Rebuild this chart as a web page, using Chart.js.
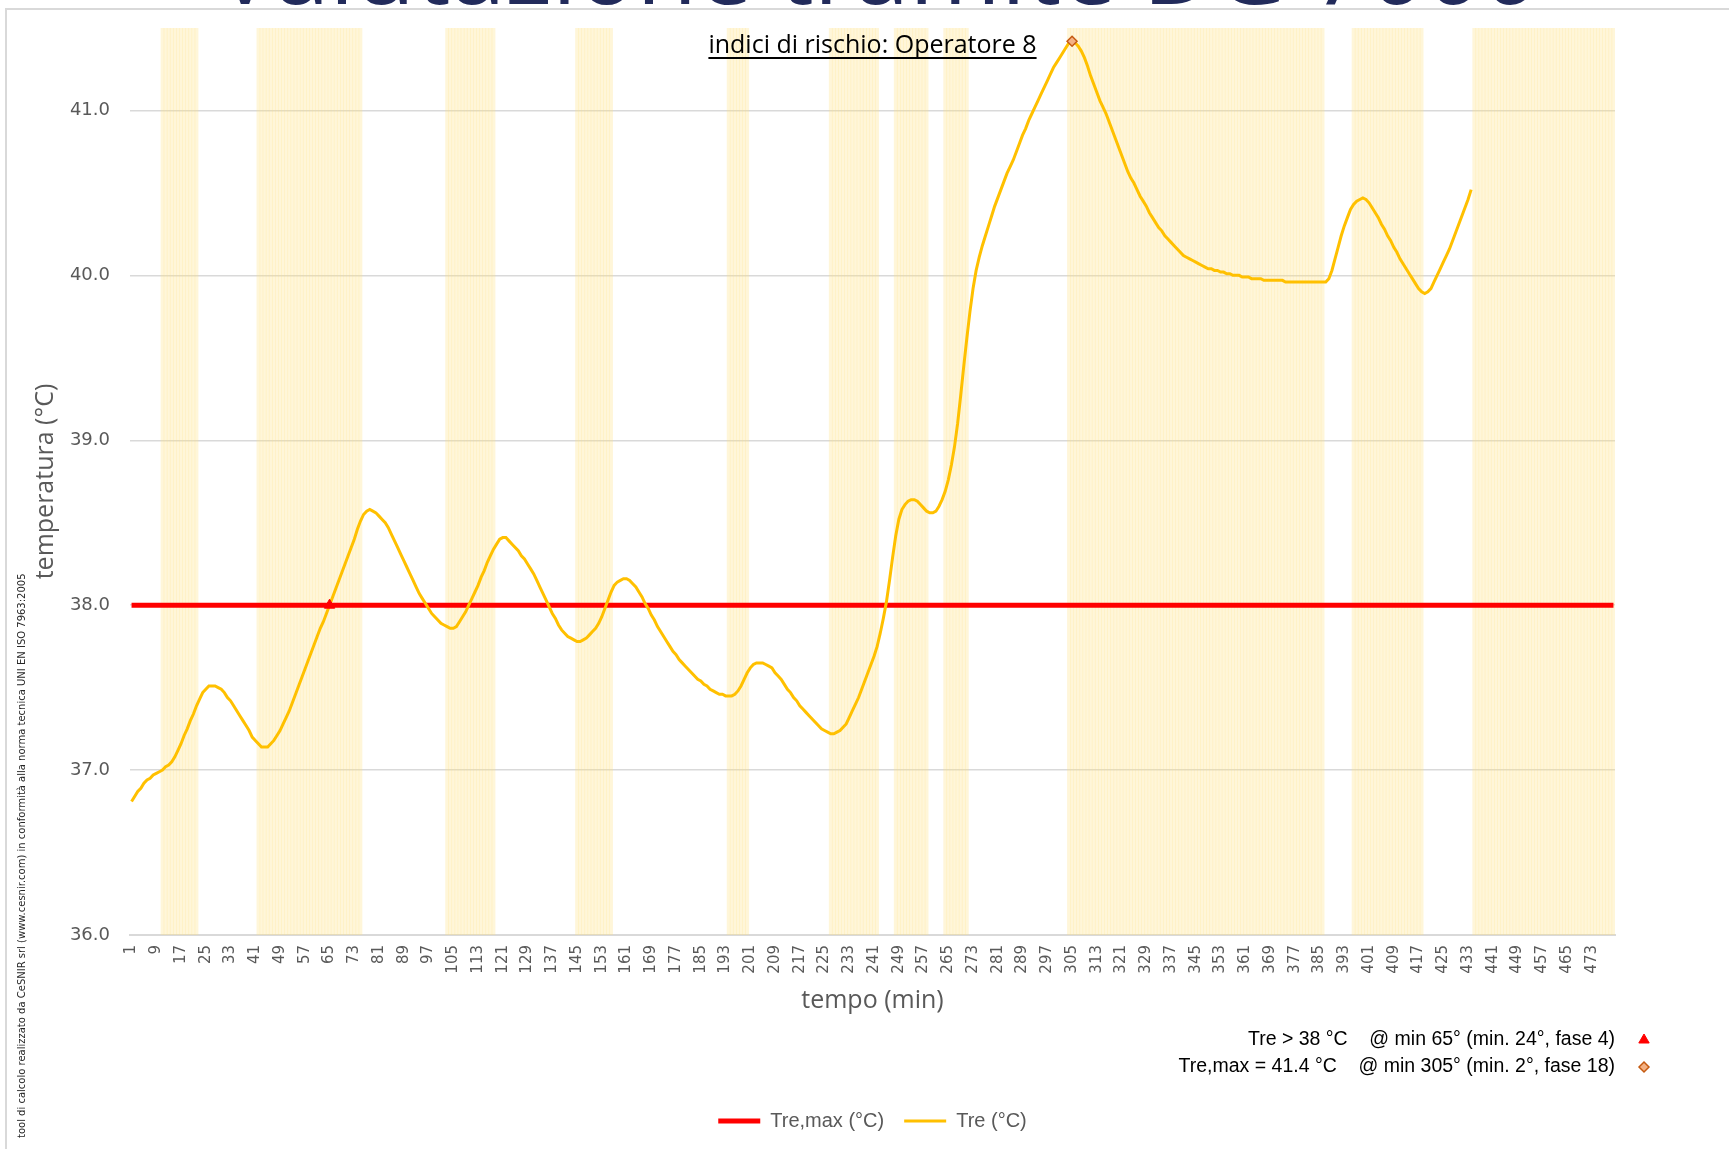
<!DOCTYPE html>
<html>
<head>
<meta charset="utf-8">
<script src="https://cdn.jsdelivr.net/npm/chart.js@4.4.1/dist/chart.umd.min.js"></script>
<style>
html,body{margin:0;padding:0;background:#fff;}
#wrap{position:relative;width:1729px;height:1149px;overflow:hidden;}
canvas{display:block;}
</style>
</head>
<body>
<div id="wrap"><canvas id="c" width="1729" height="1149"></canvas></div>
<script>
// ---------- DATA ----------
const minuteCount = 480;
const minuteLabels = Array.from({length: minuteCount}, (_, i) => String(i + 1));
const tickEvery = 8;
const yTicks = [36, 37, 38, 39, 40, 41];

const treValues = [
  36.81, 36.84, 36.87, 36.89, 36.92, 36.94, 36.95, 36.97, 36.98, 36.99,
  37.00, 37.02, 37.03, 37.05, 37.08, 37.12, 37.16, 37.21, 37.25, 37.30,
  37.34, 37.39, 37.43, 37.47, 37.49, 37.51, 37.51, 37.51, 37.50, 37.49,
  37.47, 37.44, 37.42, 37.39, 37.36, 37.33, 37.30, 37.27, 37.24, 37.20,
  37.18, 37.16, 37.14, 37.14, 37.14, 37.16, 37.18, 37.21, 37.24, 37.28,
  37.32, 37.36, 37.41, 37.46, 37.51, 37.56, 37.61, 37.66, 37.71, 37.76,
  37.81, 37.86, 37.90, 37.95, 38.00, 38.05, 38.10, 38.15, 38.20, 38.25,
  38.30, 38.35, 38.40, 38.46, 38.51, 38.55, 38.57, 38.58, 38.57, 38.56,
  38.54, 38.52, 38.50, 38.47, 38.43, 38.39, 38.35, 38.31, 38.27, 38.23,
  38.19, 38.15, 38.11, 38.07, 38.04, 38.01, 37.98, 37.95, 37.93, 37.91,
  37.89, 37.88, 37.87, 37.86, 37.86, 37.87, 37.90, 37.93, 37.96, 38.00,
  38.04, 38.08, 38.12, 38.17, 38.21, 38.26, 38.30, 38.34, 38.37, 38.40,
  38.41, 38.41, 38.39, 38.37, 38.35, 38.33, 38.30, 38.28, 38.25, 38.22,
  38.19, 38.15, 38.11, 38.07, 38.03, 37.99, 37.95, 37.92, 37.88, 37.85,
  37.83, 37.81, 37.80, 37.79, 37.78, 37.78, 37.79, 37.80, 37.82, 37.84,
  37.86, 37.89, 37.93, 37.98, 38.03, 38.08, 38.12, 38.14, 38.15, 38.16,
  38.16, 38.15, 38.13, 38.11, 38.08, 38.05, 38.01, 37.98, 37.94, 37.91,
  37.87, 37.84, 37.81, 37.78, 37.75, 37.72, 37.70, 37.67, 37.65, 37.63,
  37.61, 37.59, 37.57, 37.55, 37.54, 37.52, 37.51, 37.49, 37.48, 37.47,
  37.46, 37.46, 37.45, 37.45, 37.45, 37.46, 37.48, 37.51, 37.55, 37.59,
  37.62, 37.64, 37.65, 37.65, 37.65, 37.64, 37.63, 37.62, 37.59, 37.57,
  37.55, 37.52, 37.49, 37.47, 37.44, 37.42, 37.39, 37.37, 37.35, 37.33,
  37.31, 37.29, 37.27, 37.25, 37.24, 37.23, 37.22, 37.22, 37.23, 37.24,
  37.26, 37.28, 37.32, 37.36, 37.40, 37.44, 37.49, 37.54, 37.59, 37.64,
  37.69, 37.75, 37.83, 37.92, 38.02, 38.15, 38.29, 38.42, 38.52, 38.58,
  38.61, 38.63, 38.64, 38.64, 38.63, 38.61, 38.59, 38.57, 38.56, 38.56,
  38.57, 38.60, 38.64, 38.69, 38.76, 38.85, 38.96, 39.10, 39.27, 39.45,
  39.62, 39.78, 39.92, 40.03, 40.11, 40.18, 40.24, 40.30, 40.36, 40.42,
  40.47, 40.52, 40.57, 40.62, 40.66, 40.70, 40.75, 40.80, 40.85, 40.89,
  40.94, 40.98, 41.02, 41.06, 41.10, 41.14, 41.18, 41.22, 41.26, 41.29,
  41.32, 41.35, 41.38, 41.41, 41.42, 41.41, 41.39, 41.36, 41.32, 41.27,
  41.21, 41.16, 41.11, 41.06, 41.02, 40.98, 40.93, 40.88, 40.83, 40.78,
  40.73, 40.68, 40.63, 40.59, 40.56, 40.52, 40.48, 40.45, 40.42, 40.38,
  40.35, 40.32, 40.29, 40.27, 40.24, 40.22, 40.20, 40.18, 40.16, 40.14,
  40.12, 40.11, 40.10, 40.09, 40.08, 40.07, 40.06, 40.05, 40.04, 40.04,
  40.03, 40.03, 40.02, 40.02, 40.01, 40.01, 40.00, 40.00, 40.00, 39.99,
  39.99, 39.99, 39.98, 39.98, 39.98, 39.98, 39.97, 39.97, 39.97, 39.97,
  39.97, 39.97, 39.97, 39.96, 39.96, 39.96, 39.96, 39.96, 39.96, 39.96,
  39.96, 39.96, 39.96, 39.96, 39.96, 39.96, 39.96, 39.98, 40.03, 40.10,
  40.17, 40.24, 40.30, 40.35, 40.40, 40.43, 40.45, 40.46, 40.47, 40.46,
  40.44, 40.41, 40.38, 40.35, 40.31, 40.28, 40.24, 40.21, 40.17, 40.14,
  40.10, 40.07, 40.04, 40.01, 39.98, 39.95, 39.92, 39.90, 39.89, 39.90,
  39.92, 39.96, 40.00, 40.04, 40.08, 40.12, 40.16, 40.21, 40.26, 40.31,
  40.36, 40.41, 40.46, 40.52
];
const treMaxLimit = 38.0;

// work phases (shaded minutes)
const phaseStart = [11, 42, 103, 145, 194, 227, 248, 264, 304, 396, 435];
const phaseEnd   = [22, 75, 118, 156, 200, 242, 258, 271, 386, 418, 480];

const crossMinute = 65;
const peakMinute = 305;
const crossNote = '(min. 24°, fase 4)';
const peakNote = '(min. 2°, fase 18)';

const seriesNames = ['Tre,max (°C)', 'Tre (°C)'];
const chartTitle = 'indici di rischio: Operatore 8';
const pageTitle = 'Valutazione tramite DG 7000';
const creditText = 'tool di calcolo realizzato da CeSNIR srl (www.cesnir.com) in conformità alla norma tecnica UNI EN ISO 7963:2005';
const xTitle = 'tempo (min)';
const yTitle = 'temperatura (°C)';

// ---------- derived series ----------
const treSeries = minuteLabels.map((_, i) => i < treValues.length ? treValues[i] : null);
const treMaxSeries = minuteLabels.map(() => treMaxLimit);
const phaseSeries = minuteLabels.map((_, i) => {
  const m = i + 1;
  for (let k = 0; k < phaseStart.length; k++) if (m >= phaseStart[k] && m <= phaseEnd[k]) return 1;
  return null;
});
const crossSeries = minuteLabels.map((_, i) => i === crossMinute - 1 ? treMaxLimit : null);
const peakValue = Math.max(...treValues);
const peakSeries = minuteLabels.map((_, i) => i === peakMinute - 1 ? treValues[i] : null);

const crossText = `Tre > ${treMaxLimit.toFixed(0)} °C    @ min ${crossMinute}° ${crossNote}`;
const peakText = `Tre,max = ${peakValue.toFixed(1)} °C    @ min ${peakMinute}° ${peakNote}`;

// ---------- colours ----------
const GOLD = '#FFC000';
const RED = '#FF0000';
const DIAMOND_FILL = '#F4B183';
const DIAMOND_EDGE = '#C55A11';
const AXIS_GREY = '#595959';
const GRID = '#D9D9D9';
const NARROW = '"Liberation Sans Narrow", "Liberation Sans", sans-serif';

const decor = {
  id: 'decor',
  afterLayout(chart) {
    // centre the legend under the plot area
    const lg = chart.legend;
    if (lg) {
      const a = chart.chartArea;
      const shift = (a.left + a.right) / 2 - (lg.left + lg.right) / 2;
      lg.left += shift;
      lg.right += shift;
    }
  },
  beforeDraw(chart) {
    const ctx = chart.ctx;
    ctx.save();
    ctx.fillStyle = '#fff';
    ctx.fillRect(0, 0, chart.width, chart.height);
    // frame
    ctx.strokeStyle = GRID;
    ctx.lineWidth = 2;
    ctx.beginPath();
    ctx.moveTo(6, chart.height);
    ctx.lineTo(6, 9);
    ctx.lineTo(chart.width, 9);
    ctx.stroke();
    // slide title (cut off at top)
    ctx.fillStyle = '#222B5B';
    ctx.textAlign = 'center';
    ctx.textBaseline = 'alphabetic';
    ctx.font = '100px "Open Sans"';
    const w = ctx.measureText(pageTitle).width;
    const size = 100 * 1323 / w;
    ctx.font = size.toFixed(1) + 'px "Open Sans"';
    ctx.fillText(pageTitle, 877, 4);
    ctx.restore();
  },
  afterDraw(chart) {
    const ctx = chart.ctx;
    const a = chart.chartArea;
    ctx.save();
    // chart title, underlined
    ctx.font = '25px "Open Sans"';
    ctx.fillStyle = '#000';
    ctx.textAlign = 'center';
    ctx.textBaseline = 'alphabetic';
    const cx = (a.left + a.right) / 2;
    ctx.fillText(chartTitle, cx, 53);
    const tw = ctx.measureText(chartTitle).width;
    ctx.fillRect(cx - tw / 2, 57, tw, 2);

    // annotations
    ctx.font = '19.5px ' + NARROW;
    ctx.textAlign = 'right';
    ctx.textBaseline = 'middle';
    ctx.fillStyle = '#000';
    ctx.fillText(crossText, a.right, 1040);
    ctx.fillText(peakText, a.right, 1067);
    ctx.fillStyle = RED;
    ctx.strokeStyle = RED;
    Chart.helpers.drawPoint(ctx, {pointStyle: 'triangle', radius: 6, borderWidth: 1}, 1644, 1040);
    ctx.fillStyle = DIAMOND_FILL;
    ctx.strokeStyle = DIAMOND_EDGE;
    ctx.lineWidth = 1.5;
    Chart.helpers.drawPoint(ctx, {pointStyle: 'rectRot', radius: 5, borderWidth: 1.5}, 1644, 1067);

    // vertical credit text
    ctx.translate(22, 1138);
    ctx.rotate(-Math.PI / 2);
    ctx.font = '10px "DejaVu Sans"';
    ctx.fillStyle = '#262626';
    ctx.textAlign = 'left';
    ctx.textBaseline = 'middle';
    ctx.fillText(creditText, 0, 0, 568);
    ctx.restore();
  }
};

const chart = new Chart(document.getElementById('c'), {
  data: {
    labels: minuteLabels,
    datasets: [
      {
        type: 'line', label: seriesNames[0], data: treMaxSeries,
        borderColor: RED, backgroundColor: RED, borderWidth: 5,
        pointRadius: 0, tension: 0, order: 3
      },
      {
        type: 'line', label: seriesNames[1], data: treSeries,
        borderColor: GOLD, backgroundColor: GOLD, borderWidth: 3,
        pointRadius: 0, tension: 0, spanGaps: false, order: 2
      },
      {
        type: 'line', label: 'cross', data: crossSeries, showLine: false,
        pointStyle: 'triangle', pointRadius: 6, pointBackgroundColor: RED,
        pointBorderColor: RED, pointBorderWidth: 1, order: 1, hideInLegend: true
      },
      {
        type: 'line', label: 'peak', data: peakSeries, showLine: false,
        pointStyle: 'rectRot', pointRadius: 5, pointBackgroundColor: DIAMOND_FILL,
        pointBorderColor: DIAMOND_EDGE, pointBorderWidth: 1.5, order: 0, hideInLegend: true
      },
      {
        type: 'bar', label: 'fasi', data: phaseSeries, yAxisID: 'yb',
        backgroundColor: 'rgba(255, 224, 130, 0.30)', borderWidth: 0,
        barPercentage: 1, categoryPercentage: 1, order: 10, hideInLegend: true
      }
    ]
  },
  options: {
    responsive: false,
    animation: false,
    devicePixelRatio: 1,
    layout: {padding: {top: 28, right: 114, bottom: 8, left: 0}},
    plugins: {
      legend: {
        position: 'bottom',
        labels: {
          filter: (item, data) => !data.datasets[item.datasetIndex].hideInLegend,
          sort: (a, b) => a.datasetIndex - b.datasetIndex,
          usePointStyle: true,
          pointStyle: 'line',
          pointStyleWidth: 42,
          color: AXIS_GREY,
          padding: 20,
          font: {family: NARROW, size: 20}
        }
      },
      tooltip: {enabled: false},
      title: {display: false}
    },
    scales: {
      x: {
        type: 'category',
        offset: true,
        grid: {display: false, drawTicks: false},
        border: {display: true, color: GRID, width: 2},
        ticks: {
          autoSkip: false, minRotation: 90, maxRotation: 90, padding: 10,
          color: AXIS_GREY,
          font: {family: '"DejaVu Sans"', size: 15},
          callback: (v, i) => i % tickEvery === 0 ? minuteLabels[i] : ''
        },
        title: {
          display: true, text: xTitle, color: AXIS_GREY,
          font: {family: '"Open Sans"', size: 25},
          padding: {top: 0, bottom: 75}
        },
        afterFit: s => { s.height = 156; s.paddingLeft = 0; s.paddingRight = 0; }
      },
      y: {
        type: 'linear', min: 36, max: 41.5,
        grid: {color: GRID, lineWidth: 1.5, drawTicks: false},
        border: {display: false},
        ticks: {
          stepSize: 1, padding: 20, color: AXIS_GREY,
          font: {family: '"DejaVu Sans"', size: 18},
          callback: v => Number(v).toFixed(1)
        },
        afterBuildTicks: s => { s.ticks = s.ticks.filter(t => yTicks.includes(t.value)); },
        title: {
          display: true, text: yTitle, color: AXIS_GREY,
          font: {family: '"Open Sans"', size: 25},
          padding: {top: 31, bottom: 0}
        },
        afterFit: s => { s.width = 130; s.paddingTop = 0; s.paddingBottom = 0; }
      },
      yb: {
        type: 'linear', display: false, min: 0, max: 1
      }
    }
  },
  plugins: [decor]
});
</script>
</body>
</html>
